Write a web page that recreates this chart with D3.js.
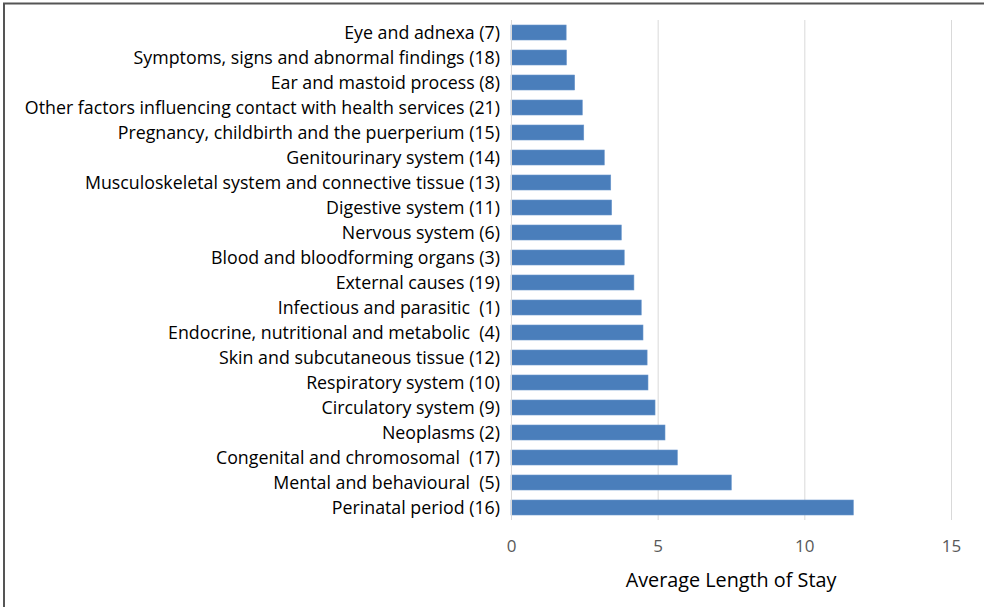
<!DOCTYPE html>
<html>
<head>
<meta charset="utf-8">
<script src="https://cdn.jsdelivr.net/npm/d3@7"></script>
<style>
  body { margin: 0; background: #fff; }
  svg { display: block; font-family: "Open Sans", "Noto Sans", sans-serif; }
</style>
</head>
<body>
<div id="chart-container"></div>
<script>
// Diagnostic chapters (top to bottom) and their average length of stay
const categories = [
    "Eye and adnexa (7)",
    "Symptoms, signs and abnormal findings (18)",
    "Ear and mastoid process (8)",
    "Other factors influencing contact with health services (21)",
    "Pregnancy, childbirth and the puerperium (15)",
    "Genitourinary system (14)",
    "Musculoskeletal system and connective tissue (13)",
    "Digestive system (11)",
    "Nervous system (6)",
    "Blood and bloodforming organs (3)",
    "External causes (19)",
    "Infectious and parasitic  (1)",
    "Endocrine, nutritional and metabolic  (4)",
    "Skin and subcutaneous tissue (12)",
    "Respiratory system (10)",
    "Circulatory system (9)",
    "Neoplasms (2)",
    "Congenital and chromosomal  (17)",
    "Mental and behavioural  (5)",
    "Perinatal period (16)"
];
const avgStay = [1.88, 1.89, 2.17, 2.43, 2.48, 3.18, 3.40, 3.43, 3.76, 3.86,
                 4.19, 4.44, 4.50, 4.64, 4.67, 4.91, 5.25, 5.67, 7.51, 11.67];
const xTicks = [0, 5, 10, 15];
const xTitle = "Average Length of Stay";

const width = 984, height = 607;
const margin = { top: 20, right: 33, bottom: 87, left: 511 };
const chartWidth = width - margin.left - margin.right;
const chartHeight = height - margin.top - margin.bottom;

const root = d3.select("#chart-container")
    .append("svg")
    .attr("width", width)
    .attr("height", height);

// frame (left and top edges only)
root.append("line").attr("x1", 4).attr("x2", 4).attr("y1", 3).attr("y2", height)
    .attr("stroke", "#555").attr("stroke-width", 2);
root.append("line").attr("x1", 3).attr("x2", width).attr("y1", 3.5).attr("y2", 3.5)
    .attr("stroke", "#555").attr("stroke-width", 2);

const svg = root.append("g")
    .attr("transform", `translate(${margin.left},${margin.top})`);

const xScale = d3.scaleLinear()
    .domain([0, 15])
    .range([0, chartWidth]);

const yScale = d3.scaleBand()
    .domain(categories)
    .range([0, chartHeight])
    .paddingInner(0.4)
    .paddingOuter(0.2);

// gridlines
svg.append("g")
    .selectAll("line")
    .data(xTicks.slice(1))
    .enter()
    .append("line")
    .attr("x1", d => xScale(d) + 0.5)
    .attr("x2", d => xScale(d) + 0.5)
    .attr("y1", 0)
    .attr("y2", chartHeight)
    .attr("stroke", "#d9d9d9")
    .attr("stroke-width", 1);

// bars
svg.selectAll(".bar")
    .data(categories)
    .enter()
    .append("rect")
    .attr("class", "bar")
    .attr("x", 0)
    .attr("y", d => yScale(d))
    .attr("width", (d, i) => xScale(avgStay[i]))
    .attr("height", yScale.bandwidth())
    .attr("fill", "#4a7ebb")
    .attr("stroke", "#6a96cc")
    .attr("stroke-width", 0.6);

// y axis line
svg.append("line")
    .attr("x1", 0.5).attr("x2", 0.5)
    .attr("y1", 0).attr("y2", chartHeight)
    .attr("stroke", "#d9d9d9");

// category labels
svg.append("g")
    .selectAll("text")
    .data(categories)
    .enter()
    .append("text")
    .attr("x", -11)
    .attr("y", d => yScale(d) + yScale.bandwidth() / 2)
    .attr("dy", "0.36em")
    .attr("text-anchor", "end")
    .style("font-size", "17.8px")
    .attr("fill", "#000")
    .attr("xml:space", "preserve")
    .text(d => d);

// x axis
const xAxis = svg.append("g")
    .attr("transform", `translate(0,${chartHeight})`)
    .call(d3.axisBottom(xScale).tickValues(xTicks).tickSize(0).tickPadding(20));
xAxis.select(".domain").remove();
xAxis.selectAll("text")
    .style("font-family", "\"Open Sans\", sans-serif")
    .style("font-size", "17px")
    .attr("fill", "#595959");

// x axis title
svg.append("text")
    .attr("x", chartWidth / 2)
    .attr("y", chartHeight + 67)
    .attr("text-anchor", "middle")
    .style("font-size", "19.8px")
    .attr("fill", "#000")
    .text(xTitle);
</script>
</body>
</html>
